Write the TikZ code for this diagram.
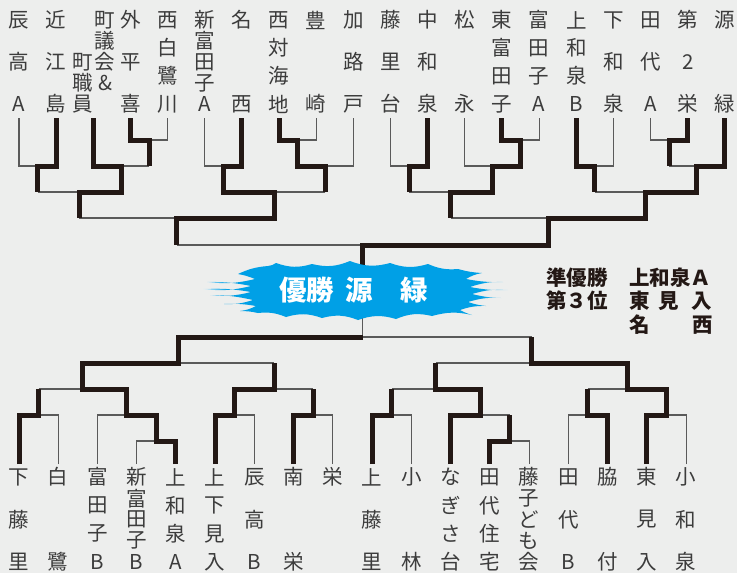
\documentclass[tikz,border=0pt]{standalone}
\usepackage{fontspec}
\newfontfamily\cjk{Noto Sans CJK JP}
\definecolor{bgc}{HTML}{EDEEED}
\definecolor{thk}{HTML}{231815}
\definecolor{thn}{HTML}{5A5A5A}
\definecolor{lblc}{HTML}{3C3C3C}
\definecolor{blobblue}{HTML}{00A0E6}
\definecolor{blobfade}{HTML}{D5EEF9}
\pgfdeclarehorizontalshading{blobshade}{100bp}{color(0bp)=(blobfade); color(25bp)=(blobfade); color(29bp)=(blobblue); color(71bp)=(blobblue); color(75bp)=(blobfade); color(100bp)=(blobfade)}
\newcommand\vlab[5]{\foreach \ch [count=\k] in {#5}{\node[lbl] (#1-\k) at (#2,{#3+(\k-1)*#4}) {\ch};}}
\begin{document}
\begin{tikzpicture}[x=1pt,y=-1pt,
  win/.style={draw=thk,line width=5pt,line join=miter},
  lose/.style={draw=thn,line width=1.1pt},
  lbl/.style={font=\cjk\fontsize{20.5}{22}\selectfont,text=lblc,inner sep=0pt,anchor=center},
  info/.style={font=\cjk\bfseries\fontsize{20.5}{22}\selectfont,text=thk,inner sep=0pt,anchor=base west}]
\fill[bgc] (0,0) rectangle (737,573);
\useasboundingbox (0,0) rectangle (737,573);
% ---------- top leaves ----------
\coordinate (T1) at (19,118);
\coordinate (T2) at (56.15,118);
\coordinate (T3) at (93.3,118);
\coordinate (T4) at (130.45,118);
\coordinate (T5) at (167.6,118);
\coordinate (T6) at (204.75,118);
\coordinate (T7) at (241.9,118);
\coordinate (T8) at (279.05,118);
\coordinate (T9) at (316.2,118);
\coordinate (T10) at (353.35,118);
\coordinate (T11) at (390.5,118);
\coordinate (T12) at (427.65,118);
\coordinate (T13) at (464.8,118);
\coordinate (T14) at (501.95,118);
\coordinate (T15) at (539.1,118);
\coordinate (T16) at (576.25,118);
\coordinate (T17) at (613.4,118);
\coordinate (T18) at (650.55,118);
\coordinate (T19) at (687.7,118);
\coordinate (T20) at (724.85,118);
% ---------- top matches ----------
\coordinate (M1) at (37.58,166);
\coordinate (M2) at (149.03,140);
\coordinate (M3) at (121.16,166);
\coordinate (M4) at (79.37,192);
\coordinate (M5) at (223.33,166);
\coordinate (M6) at (297.63,140);
\coordinate (M7) at (325.49,166);
\coordinate (M8) at (274.41,192);
\coordinate (M9) at (176.89,218);
\coordinate (M10) at (409.08,166);
\coordinate (M11) at (520.53,140);
\coordinate (M12) at (492.66,166);
\coordinate (M13) at (450.87,192);
\coordinate (M14) at (594.83,166);
\coordinate (M15) at (669.13,140);
\coordinate (M16) at (696.99,166);
\coordinate (M17) at (645.91,192);
\coordinate (M18) at (548.39,218);
\coordinate (TOP) at (362.64,245);
\coordinate (blob) at (362.64,290);
\coordinate (BOT) at (362.64,337);
% ---------- bottom leaves ----------
\coordinate (B1) at (19,464);
\coordinate (B2) at (58.24,464);
\coordinate (B3) at (97.48,464);
\coordinate (B4) at (136.72,464);
\coordinate (B5) at (175.96,464);
\coordinate (B6) at (215.2,464);
\coordinate (B7) at (254.44,464);
\coordinate (B8) at (293.68,464);
\coordinate (B9) at (332.92,464);
\coordinate (B10) at (372.16,464);
\coordinate (B11) at (411.4,464);
\coordinate (B12) at (450.64,464);
\coordinate (B13) at (489.88,464);
\coordinate (B14) at (529.12,464);
\coordinate (B15) at (568.36,464);
\coordinate (B16) at (607.6,464);
\coordinate (B17) at (646.84,464);
\coordinate (B18) at (686.08,464);
% ---------- bottom matches ----------
\coordinate (N1) at (38.62,415);
\coordinate (N2) at (156.34,441);
\coordinate (N3) at (126.91,415);
\coordinate (N4) at (82.77,389);
\coordinate (N5) at (234.82,415);
\coordinate (N6) at (313.3,415);
\coordinate (N7) at (274.06,389);
\coordinate (N8) at (178.42,363);
\coordinate (N9) at (391.78,415);
\coordinate (N10) at (509.5,441);
\coordinate (N11) at (480.07,415);
\coordinate (N12) at (435.93,389);
\coordinate (N13) at (587.98,415);
\coordinate (N14) at (666.46,415);
\coordinate (N15) at (627.22,389);
\coordinate (N16) at (531.58,363);
% ---------- thin (losing) lines ----------
\draw[lose] (T1) |- (M1);
\draw[lose] (M1 |- M4) -- (M4);
\draw[lose] (M4 |- M9) -- (M9);
\draw[lose] (M2 |- M3) -- (M3);
\draw[lose] (T5) |- (M2);
\draw[lose] (T6) |- (M5);
\draw[lose] (M9 |- TOP) -- (TOP);
\draw[lose] (M7 |- M8) -- (M8);
\draw[lose] (T9) |- (M6);
\draw[lose] (T10) |- (M7);
\draw[lose] (T11) |- (M10);
\draw[lose] (M10 |- M13) -- (M13);
\draw[lose] (T13) |- (M12);
\draw[lose] (M13 |- M18) -- (M18);
\draw[lose] (T15) |- (M11);
\draw[lose] (M14 |- M17) -- (M17);
\draw[lose] (T17) |- (M14);
\draw[lose] (T18) |- (M15);
\draw[lose] (M15 |- M16) -- (M16);
\draw[lose] (N1 |- N4) -- (N4);
\draw[lose] (B2) |- (N1);
\draw[lose] (B3) |- (N3);
\draw[lose] (B4) |- (N2);
\draw[lose] (BOT) -- (blob);
\draw[lose] (N7 |- N8) -- (N8);
\draw[lose] (B7) |- (N5);
\draw[lose] (N6 |- N7) -- (N7);
\draw[lose] (B9) |- (N6);
\draw[lose] (N9 |- N12) -- (N12);
\draw[lose] (B11) |- (N9);
\draw[lose] (N12 |- N16) -- (N16);
\draw[lose] (N10 |- N11) -- (N11);
\draw[lose] (B14) |- (N10);
\draw[lose] (B15) |- (N13);
\draw[lose] (N13 |- N15) -- (N15);
\draw[lose] (N16 |- BOT) -- (BOT);
\draw[lose] (B18) |- (N14);
% ---------- thick (winning) lines ----------
\draw[win] (T2) |- (M1) -- (M1 |- M4);
\draw[win] (T3) |- (M3) |- (M4) -- (M4 |- M9);
\draw[win] (T4) |- (M2) -- (M2 |- M3);
\draw[win] (T7) |- (M5) |- (M8) |- (M9) -- (M9 |- TOP);
\draw[win] (T8) |- (M6) |- (M7) -- (M7 |- M8);
\draw[win] (T12) |- (M10) -- (M10 |- M13);
\draw[win] (T14) |- (M11) |- (M12) |- (M13) -- (M13 |- M18);
\draw[win] (T16) |- (M14) -- (M14 |- M17);
\draw[win] (T19) |- (M15) -- (M15 |- M16);
\draw[win] (T20) |- (M16) |- (M17) |- (M18) |- (TOP) -- (blob);
\draw[win] (B1) |- (N1) -- (N1 |- N4);
\draw[win] (B5) |- (N2) |- (N3) |- (N4) |- (N8) |- (BOT);
\draw[win] (B6) |- (N5) |- (N7) -- (N7 |- N8);
\draw[win] (B8) |- (N6) -- (N6 |- N7);
\draw[win] (B10) |- (N9) -- (N9 |- N12);
\draw[win] (B12) |- (N11) |- (N12) -- (N12 |- N16);
\draw[win] (B13) |- (N10) -- (N10 |- N11);
\draw[win] (B16) |- (N13) -- (N13 |- N15);
\draw[win] (B17) |- (N14) |- (N15) |- (N16) -- (N16 |- BOT);
% ---------- champion burst ----------
\shade[shading=blobshade]
  (238,274) to[bend left=10] (268,266) to[bend right=14] (276,263)
  to[bend right=18] (312,264) to[bend right=18] (350,261) to[bend right=18] (390,263)
  to[bend right=18] (428,264) to[bend right=14] (458,269)
  to[bend right=6] (482,273) to[bend right=10] (466,279)
  to[bend right=6] (503,282) to[bend right=10] (470,287)
  to[bend right=6] (508,290) to[bend right=10] (472,294)
  to[bend right=6] (501,298) to[bend right=10] (468,302)
  to[bend right=6] (486,306) to[bend right=10] (460,310)
  to[bend right=6] (472,315)
  to[bend right=14] (432,316) to[bend right=18] (396,319) to[bend right=18] (358,320)
  to[bend right=18] (322,318) to[bend right=18] (286,317) to[bend right=14] (258,313)
  to[bend right=6] (240,311) to[bend right=10] (256,306)
  to[bend right=6] (224,304) to[bend right=10] (253,300)
  to[bend right=6] (210,295) to[bend right=10] (251,292)
  to[bend right=6] (203,289) to[bend right=10] (251,286)
  to[bend right=6] (207,282) to[bend right=10] (255,279)
  to[bend right=6] (238,274) -- cycle;
\node[font=\cjk\bfseries\fontsize{27.5}{30}\selectfont,text=white,inner sep=0pt,anchor=base west]
  (champ) at (279,300.5) {優勝\hspace{11pt}源\hspace{28pt}緑};
% ---------- result text ----------
\node[info] (ru) at (546,285.5) {準優勝};
\node[info] (runame) at (629,285.5) {上和泉Ａ};
\node[info] (third) at (546,308) {第３位};
\node[info] (thirdA) at (629,308) {東\hspace{9pt}見\hspace{12.5pt}入};
\node[info] (thirdB) at (629,332.5) {名\hspace{42.5pt}西};
% ---------- top labels ----------
\vlab{lT1}{19}{20}{42}{辰,高,A}
\vlab{lT2}{56.15}{20}{42}{近,江,島}
\vlab{lT3a}{105}{20}{21}{町,議,会,\&}
\vlab{lT3b}{82.5}{62}{21}{町,職,員}
\vlab{lT4}{130.45}{20}{42}{外,平,喜}
\vlab{lT5}{167.6}{20}{28}{西,白,鷺,川}
\vlab{lT6}{204.75}{20}{21}{新,富,田,子,A}
\vlab{lT7}{241.9}{20}{84}{名,西}
\vlab{lT8}{279.05}{20}{28}{西,対,海,地}
\vlab{lT9}{316.2}{20}{84}{豊,崎}
\vlab{lT10}{353.35}{20}{42}{加,路,戸}
\vlab{lT11}{390.5}{20}{42}{藤,里,台}
\vlab{lT12}{427.65}{20}{42}{中,和,泉}
\vlab{lT13}{464.8}{20}{84}{松,永}
\vlab{lT14}{501.95}{20}{28}{東,富,田,子}
\vlab{lT15}{539.1}{20}{28}{富,田,子,A}
\vlab{lT16}{576.25}{20}{28}{上,和,泉,B}
\vlab{lT17}{613.4}{20}{42}{下,和,泉}
\vlab{lT18}{650.55}{20}{42}{田,代,A}
\vlab{lT19}{687.7}{20}{42}{第,2,栄}
\vlab{lT20}{724.85}{20}{84}{源,緑}
% ---------- bottom labels ----------
\vlab{lB1}{19}{477}{42.5}{下,藤,里}
\vlab{lB2}{58.24}{477}{85}{白,鷺}
\vlab{lB3}{97.48}{477}{28.33}{富,田,子,B}
\vlab{lB4}{136.72}{477}{21.25}{新,富,田,子,B}
\vlab{lB5}{175.96}{477}{28.33}{上,和,泉,A}
\vlab{lB6}{215.2}{477}{28.33}{上,下,見,入}
\vlab{lB7}{254.44}{477}{42.5}{辰,高,B}
\vlab{lB8}{293.68}{477}{85}{南,栄}
\vlab{lB9}{332.92}{477}{0}{栄}
\vlab{lB10}{372.16}{477}{42.5}{上,藤,里}
\vlab{lB11}{411.4}{477}{85}{小,林}
\vlab{lB12}{450.64}{477}{28.33}{な,ぎ,さ,台}
\vlab{lB13}{489.88}{477}{28.33}{田,代,住,宅}
\vlab{lB14}{529.12}{477}{21.25}{藤,子,ど,も,会}
\vlab{lB15}{568.36}{477}{42.5}{田,代,B}
\vlab{lB16}{607.6}{477}{85}{脇,付}
\vlab{lB17}{646.84}{477}{42.5}{東,見,入}
\vlab{lB18}{686.08}{477}{42.5}{小,和,泉}
\end{tikzpicture}
\end{document}
